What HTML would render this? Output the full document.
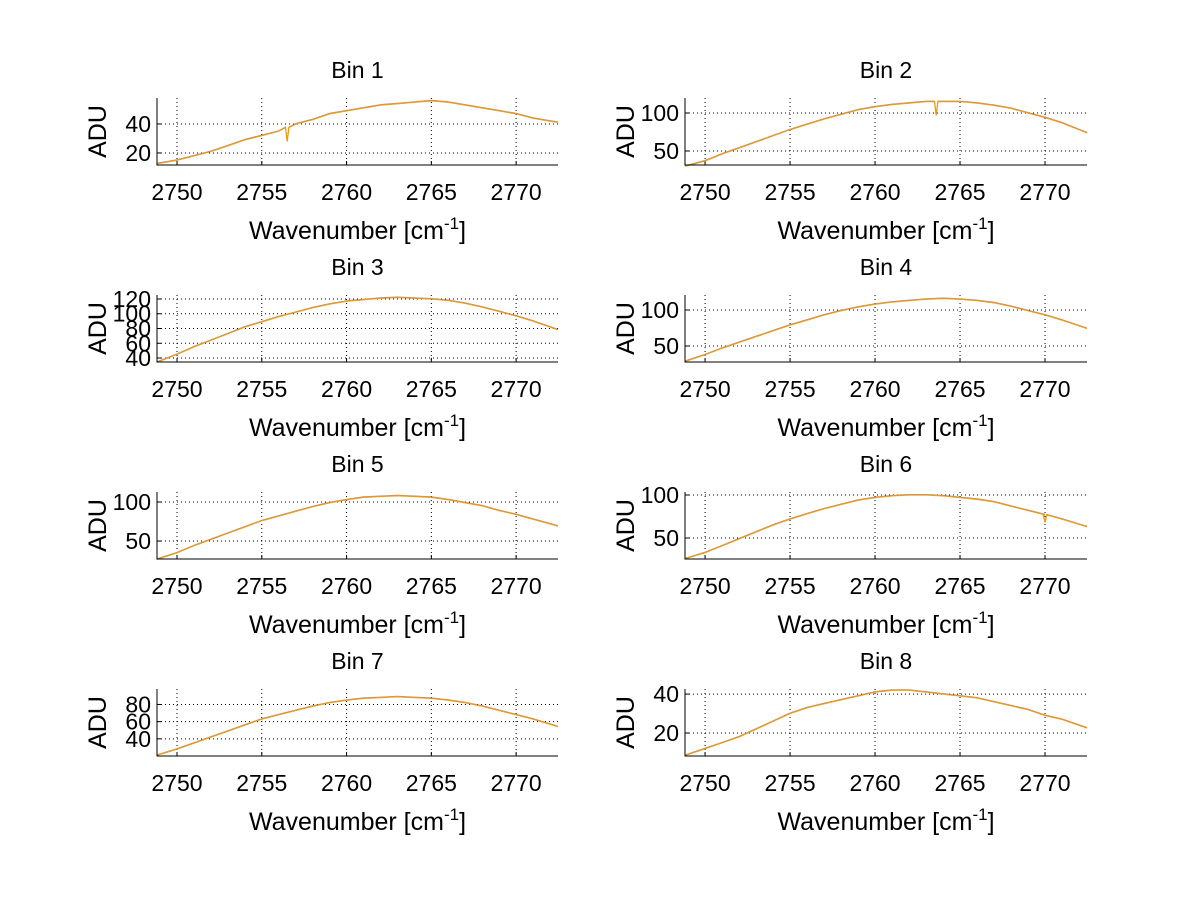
<!DOCTYPE html>
<html><head><meta charset="utf-8"><style>
body{margin:0;background:#fff;}
svg text{font-family:"Liberation Sans",sans-serif;fill:#000;}
</style></head><body>
<svg id="fig" width="1200" height="901" viewBox="0 0 1200 901" xmlns="http://www.w3.org/2000/svg"></svg>
<script>
const wavenumbers=[2749,2750,2751,2752,2753,2754,2755,2756,2757,2758,2759,2760,2761,2762,2763,2764,2765,2766,2767,2768,2769,2770,2771,2772];
const xTicks=[2750,2755,2760,2765,2770];
const bin1=[13,15,18,21,25,29,32,35,40,43,47,49,51,53,54,55,56,55,53,51,49,47,44,42];
const bin2=[31,37,46,54,62,70,78,85,92,98,104,108,111,113,115,115,115,113,110,106,100,94,87,78];
const bin3=[36,45,55,64,73,82,89,96,102,108,113,117,119,121,122,121,120,118,114,109,103,97,90,82];
const bin4=[30,38,47,55,63,71,79,86,93,99,104,108,111,113,115,116,115,113,110,105,99,93,86,78];
const bin5=[28,35,44,52,60,68,76,82,88,94,99,103,106,107,108,107,106,103,99,95,89,84,78,72];
const bin6=[27,33,41,49,57,65,72,78,84,89,94,97,99,100,100,99,97,95,92,87,82,77,72,66];
const bin7=[22,28,35,42,49,56,63,68,73,78,82,85,87,88,89,88,87,85,82,78,73,68,63,57];
const bin8=[9,12,15,18,22,26,30,33,35,37,39,41,42,42,41,40,39,38,36,34,32,29,27,24];
const dipX=[2756.5,2763.6,2770.0];
const dipBin=[1,2,6];
const dipVal=[28,97,68];
const yTicks1=[20,40], yTicks2=[50,100], yTicks3=[40,60,80,100,120], yTicks4=[50,100];
const yTicks5=[50,100], yTicks6=[50,100], yTicks7=[40,60,80], yTicks8=[20,40];
const bins=[bin1,bin2,bin3,bin4,bin5,bin6,bin7,bin8];
const yTickSets=[yTicks1,yTicks2,yTicks3,yTicks4,yTicks5,yTicks6,yTicks7,yTicks8];
const yRanges=[[11.7,57.9],[31.6,119.7],[34.6,125.4],[27.8,120.8],[27,112.8],[25.6,103.5],[20,98],[8.2,42.6]];
const xRange=[2748.82,2772.47];
const NS="http://www.w3.org/2000/svg";
const svg=document.getElementById('fig');
function mk(t,a,p){const e=document.createElementNS(NS,t);for(const k in a)e.setAttribute(k,a[k]);(p||svg).appendChild(e);return e;}
const colL=[157,558],colR=[685,1087],rows=[[98,165],[295,362],[492,559],[689,756]];
for(let b=0;b<8;b++){
  const col=b%2===0?colL:colR, row=rows[Math.floor(b/2)];
  const [x0,x1]=col,[y0,y1]=row;
  const g=mk('g',{});
  
  
  const sx=v=>x0+(v-xRange[0])/(xRange[1]-xRange[0])*(x1-x0);
  const yr=yRanges[b];
  const sy=v=>y1-(v-yr[0])/(yr[1]-yr[0])*(y1-y0);
  xTicks.forEach(t=>{const X=sx(t);
    const l=mk('line',{x1:X,x2:X,y1:y0,y2:y1,stroke:'#000','stroke-width':1,'stroke-dasharray':'1,3'},g);
    
    mk('line',{x1:X,x2:X,y1:y1,y2:y1-4,stroke:'#000'},g);
    const tx=mk('text',{x:X,y:y1+35,'text-anchor':'middle','font-size':23},g);tx.textContent=t;
    
  });
  yTickSets[b].forEach(t=>{const Y=sy(t);
    const l=mk('line',{x1:x0,x2:x1,y1:Y,y2:Y,stroke:'#000','stroke-width':1,'stroke-dasharray':'1,3'},g);
    
    mk('line',{x1:x0,x2:x0+4,y1:Y,y2:Y,stroke:'#000'},g);
    const tx=mk('text',{x:x0-6,y:Y+8,'text-anchor':'end','font-size':23},g);tx.textContent=t;
    
  });
  const v=bins[b], n=v.length;
  let pts=wavenumbers.map((w,i)=>[w,v[i]]);
  dipX.forEach((dx,k)=>{if(dipBin[k]===b+1){
    let i=pts.findIndex(p=>p[0]>dx);const a=pts[i-1],c=pts[i];
    const base=a[1]+(c[1]-a[1])*(dx-a[0])/(c[0]-a[0]);
    pts.splice(i,0,[dx-0.1,base],[dx,dipVal[k]],[dx+0.1,base]);}});
  const first=[xRange[0],v[0]-(v[1]-v[0])*0.18];
  const last=[xRange[1],v[n-1]+(v[n-1]-v[n-2])*(xRange[1]-wavenumbers[n-1])];
  const all=[first,...pts,last];
  const d=all.map((p,i)=>(i?'L':'M')+sx(p[0]).toFixed(1)+','+sy(p[1]).toFixed(1)).join(' ');
  const d2=all.map((p,i)=>(i?'L':'M')+sx(p[0]).toFixed(1)+','+(sy(p[1])-0.6).toFixed(1)).join(' ');
  const s2=mk('path',{d:d2,fill:'none',stroke:'#5a5ab4','stroke-width':0.8,opacity:0.7},g);
  
  const s1=mk('path',{d:d,fill:'none',stroke:'#f09a10','stroke-width':1.3},g);
  
  const ax=mk('path',{d:`M${x0},${y0} L${x0},${y1} L${x1},${y1}`,fill:'none',stroke:'#000','stroke-width':1},g);
  
  const cx=(x0+x1)/2;
  const ti=mk('text',{x:cx,y:y0-20,'text-anchor':'middle','font-size':23},g);ti.textContent='Bin '+(b+1);
  
  const xl=mk('text',{x:cx,y:y1+74,'text-anchor':'middle','font-size':25},g);
  xl.innerHTML='Wavenumber [cm<tspan dy="-10" font-size="17">-1</tspan><tspan dy="10">]</tspan>';
  
  const yx=x0-51, yy=(y0+y1)/2;
  const yl=mk('text',{x:yx,y:yy,'text-anchor':'middle','font-size':25,transform:`rotate(-90 ${yx} ${yy})`},g);yl.textContent='ADU';
  
}
</script>
</body></html>
